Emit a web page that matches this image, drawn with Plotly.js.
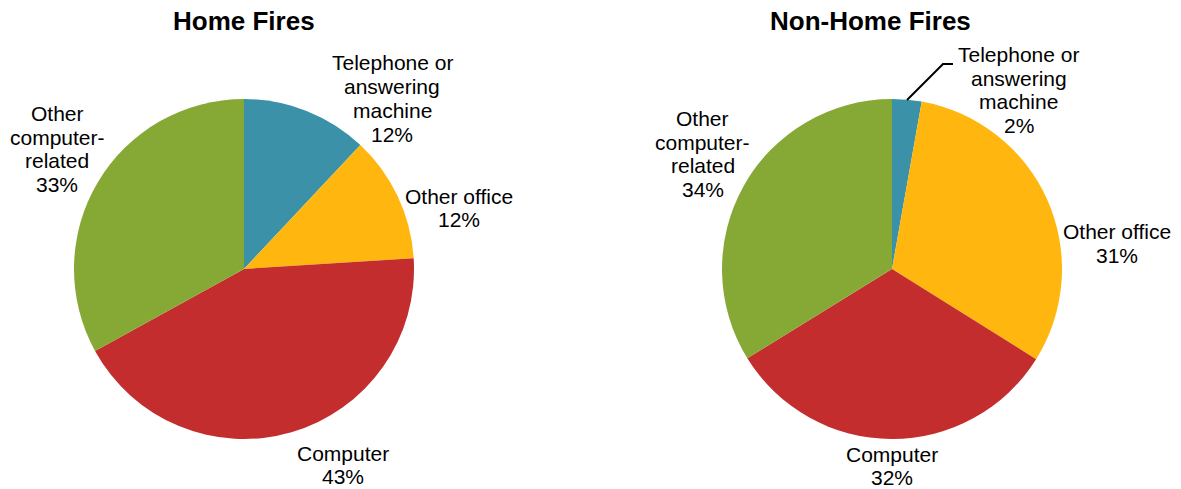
<!DOCTYPE html>
<html>
<head>
<meta charset="utf-8">
<script src="https://cdn.plot.ly/plotly-3.0.1.min.js"></script>
<style>html,body{margin:0;padding:0;background:#fff;}#chart{width:1181px;height:489px;}</style>
</head>
<body>
<div id="chart"></div>
<script>
const categories = ["Telephone or answering machine", "Other office", "Computer", "Other computer-related"];
const labelLines = [["Telephone or", "answering", "machine"], ["Other office"], ["Computer"], ["Other", "computer-", "related"]];
const homeValues = [12, 12, 43, 33];
const nonHomeValues = [2.8, 31.1, 32.3, 33.8];
const homePct = ["12%", "12%", "43%", "33%"];
const nonHomePct = ["2%", "31%", "32%", "34%"];
const titles = ["Home Fires", "Non-Home Fires"];
const colors = ["#3A91A8", "#FFB70F", "#C32D2E", "#86A935"];

const W = 1181, H = 489;
const px = x => x / W, py = y => 1 - y / H;

function pieTrace(values, cx) {
  const r = 170, cy = 269;
  return {
    type: "pie", labels: categories, values: values, sort: false,
    direction: "clockwise", rotation: 0, textinfo: "none", hoverinfo: "label+percent",
    marker: {colors: colors, line: {width: 0}},
    domain: {x: [px(cx - r), px(cx + r)], y: [py(cy + r), py(cy - r)]},
    showlegend: false
  };
}

const homePos = [[392, 98.5], [459, 208], [343, 465], [57, 149]];
const nonHomePos = [[1019, 90], [1117, 243.5], [892, 466], [703, 154]];
const font = {family: "Liberation Sans, Arial, sans-serif", size: 21, color: "#000"};
const pitch = 23.7;

const annotations = [];
function addLabels(pos, pct) {
  for (let i = 0; i < categories.length; i++) {
    const lines = labelLines[i].concat([pct[i]]);
    const n = lines.length;
    lines.forEach((ln, j) => {
      annotations.push({
        xref: "paper", yref: "paper", x: px(pos[i][0]), y: py(pos[i][1] + (j - (n - 1) / 2) * pitch),
        xanchor: "center", yanchor: "middle", showarrow: false, borderpad: 0,
        text: ln, font: font, align: "center"
      });
    });
  }
}
addLabels(homePos, homePct);
addLabels(nonHomePos, nonHomePct);
const titlePos = [[244, 21], [870, 21]];
titles.forEach((t, i) => annotations.push({
  xref: "paper", yref: "paper", x: px(titlePos[i][0]), y: py(titlePos[i][1]),
  xanchor: "center", yanchor: "middle", showarrow: false,
  text: "<b>" + t + "</b>", font: {family: "Liberation Sans, Arial, sans-serif", size: 26, color: "#000"}
}));

const layout = {
  width: W, height: H, margin: {l: 0, r: 0, t: 0, b: 0},
  paper_bgcolor: "#fff", plot_bgcolor: "#fff",
  annotations: annotations,
  shapes: [{
    type: "path", xref: "paper", yref: "paper",
    path: `M ${px(907)} ${py(100)} L ${px(943)} ${py(64)} L ${px(953)} ${py(64)}`,
    line: {color: "#000", width: 2}
  }]
};

Plotly.newPlot("chart", [pieTrace(homeValues, 244), pieTrace(nonHomeValues, 892)], layout, {displayModeBar: false, staticPlot: true});
</script>
</body>
</html>
